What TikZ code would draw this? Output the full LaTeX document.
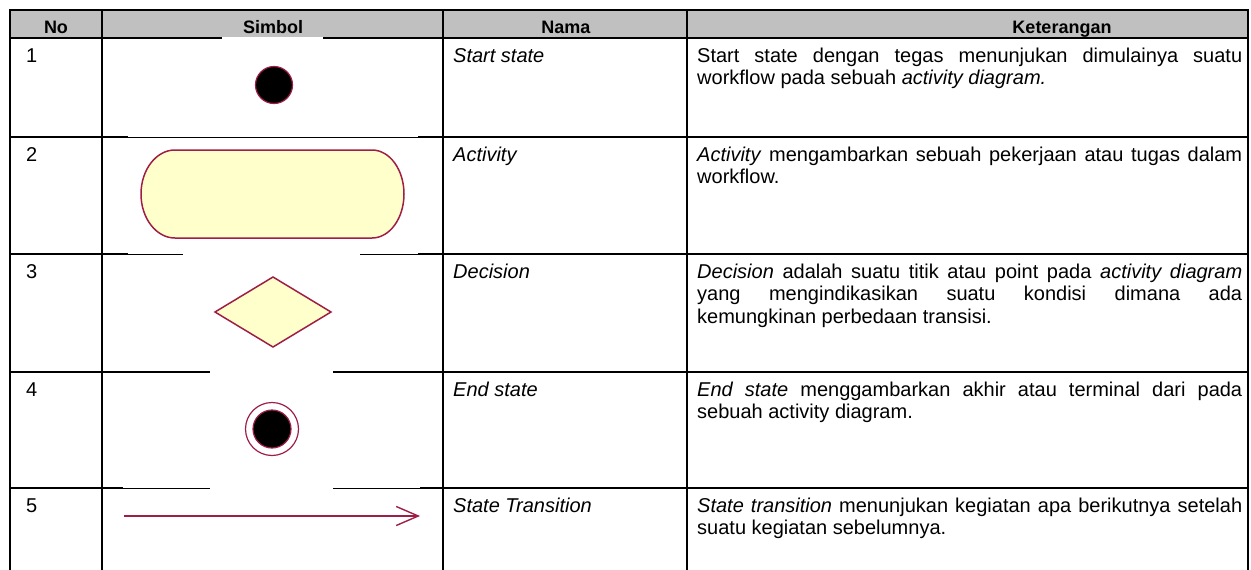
\documentclass[tikz,border=0pt]{standalone}
\usepackage{fontspec}
\setmainfont{Liberation Sans}
\usetikzlibrary{arrows.meta}
\definecolor{umlred}{RGB}{160,30,70}
\definecolor{umlfill}{RGB}{255,255,204}
\definecolor{headgray}{RGB}{192,192,192}

\begin{document}
\begin{tikzpicture}[x=1pt, y=-1pt,
  grid/.style={line width=2pt, line cap=rect},
  thinline/.style={line width=0.9pt},
  sym/.style={draw=umlred, line width=1.5pt, fill=umlfill},
  head/.style={font=\fontsize{18}{20}\selectfont\bfseries, anchor=base, inner sep=0pt},
  cell/.style={font=\fontsize{20}{22.6}\selectfont, anchor=base west, inner sep=0pt},
  desc/.style={cell, text width=545pt, align=justify}]
\useasboundingbox (0,0) rectangle (1251,570);
% header band
\fill[headgray] (10,10) rectangle (1248,38);
% columns
\draw[grid] (10,10) -- (10,570);
\draw[grid] (102,10) -- (102,570);
\draw[grid] (443,10) -- (443,570);
\draw[grid] (687,10) -- (687,570);
\draw[grid] (1248,10) -- (1248,570);
% rows
\draw[grid] (10,10) -- (1248,10);
\draw[grid] (10,38) -- (1248,38);
\draw[grid] (10,137) -- (1248,137);
\draw[grid] (10,254) -- (1248,254);
\draw[grid] (10,372) -- (1248,372);
\draw[grid] (10,488) -- (1248,488);
% pasted pictures cover parts of the rules
\fill[white] (222,36.5) rectangle (323,39.5);
\fill[white] (128,135.5) rectangle (418,138.5);
\draw[thinline] (128,137) -- (418,137);
\fill[white] (128,252.5) rectangle (418,255.5);
\draw[thinline] (128,254) -- (183,254);
\draw[thinline] (360,254) -- (418,254);
\fill[white] (210,370.5) rectangle (333,373.5);
\fill[white] (123,486.5) rectangle (420,489.5);
\draw[thinline] (123,488) -- (210,488);
\draw[thinline] (333,488) -- (420,488);
% header
\node[head] (hNo) at (56,33) {No};
\node[head] (hSimbol) at (273,33) {Simbol};
\node[head] (hNama) at (566,33) {Nama};
\node[head] (hKet) at (1062,33) {Keterangan};
% numbers
\node[cell] (no1) at (26,62) {1};
\node[cell] (no2) at (26,161) {2};
\node[cell] (no3) at (26,278) {3};
\node[cell] (no4) at (26,396) {4};
\node[cell] (no5) at (26,512) {5};
% names
\node[cell] (nama1) at (453,62) {\textit{Start state}};
\node[cell] (nama2) at (453,161) {\textit{Activity}};
\node[cell] (nama3) at (453,278) {\textit{Decision}};
\node[cell] (nama4) at (453,396) {\textit{End state}};
\node[cell] (nama5) at (453,512) {\textit{State Transition}};
% descriptions
\node[desc] (ket1) at (697,62) {Start state dengan tegas menunjukan dimulainya suatu\linebreak workflow pada sebuah \textit{activity diagram.}};
\node[desc] (ket2) at (697,161) {\textit{Activity} mengambarkan sebuah pekerjaan atau tugas dalam\linebreak workflow.};
\node[desc] (ket3) at (697,278) {\textit{Decision} adalah suatu titik atau point pada \textit{activity diagram}\linebreak yang mengindikasikan suatu kondisi dimana ada\linebreak kemungkinan perbedaan transisi.};
\node[desc] (ket4) at (697,396) {\textit{End state} menggambarkan akhir atau terminal dari pada\linebreak sebuah activity diagram.};
\node[desc] (ket5) at (697,512) {\textit{State transition} menunjukan kegiatan apa berikutnya setelah\linebreak suatu kegiatan sebelumnya.};
% start state
\draw[draw=umlred, fill=black, line width=1.2pt] (274,85) circle (18.5);
% activity
\draw[sym] (175,150) -- (372,150) arc (-90:90:32 and 44) -- (175,238) arc (90:270:34 and 44) -- cycle;
% decision
\draw[sym] (273,277) -- (331,312) -- (273,347) -- (215,312) -- cycle;
% end state
\draw[umlred, line width=1.2pt] (272,429) circle (26.5);
\draw[draw=umlred, fill=black, line width=1.2pt] (272,429) circle (19);
% state transition
\coordinate (trStart) at (124,516);
\coordinate (trEnd) at (420,516);
\draw[umlred, line width=1.4pt, -{Straight Barb[length=22pt, width=19pt]}] (trStart) -- (trEnd);
\end{tikzpicture}
\end{document}
